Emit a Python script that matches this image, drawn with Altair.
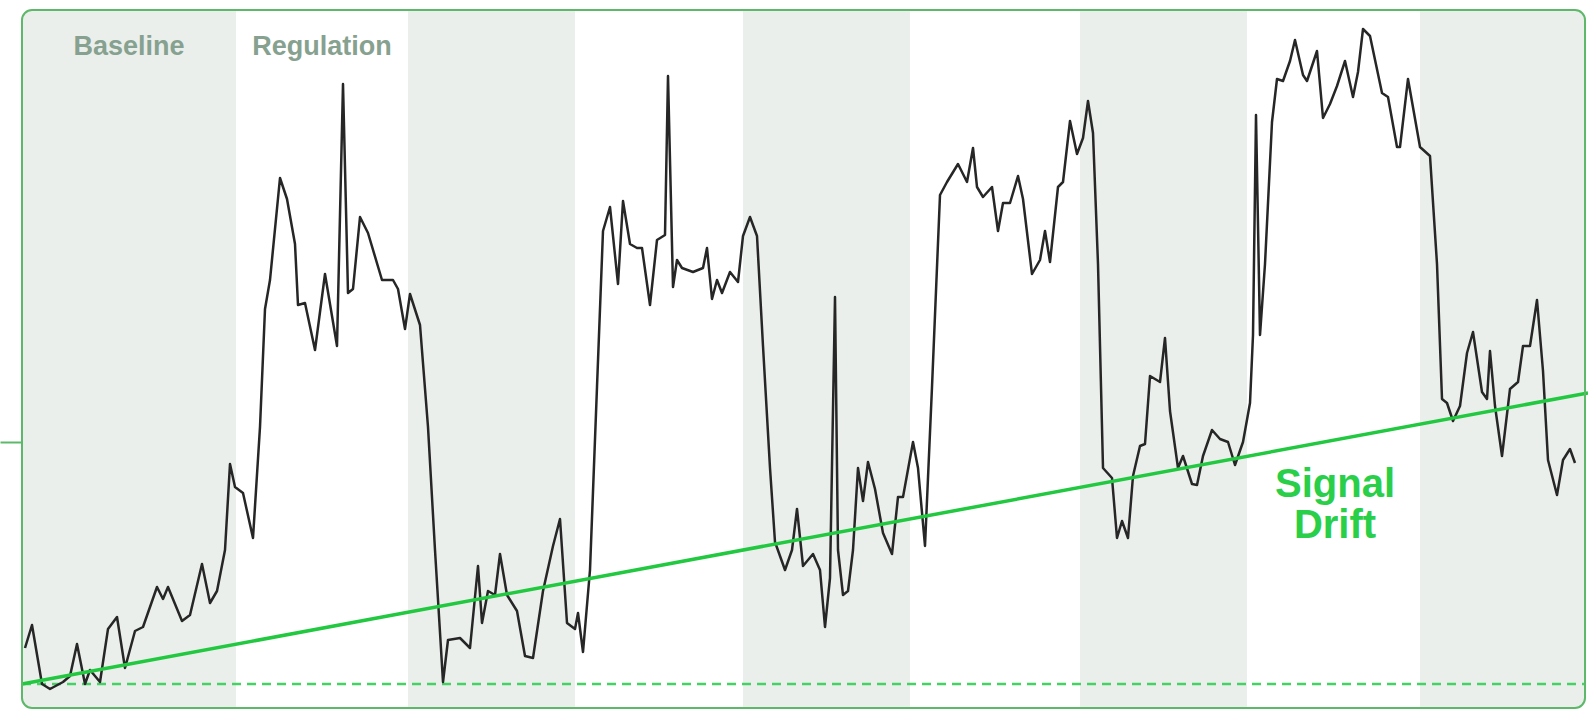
import altair as alt
import pandas as pd

# ---- data ----
# time axis (samples from the left edge of the panel) and signal level above baseline
time_vals = [3,10,20,28,41,48,55,63,68,78,
             86,95,103,113,121,135,141,146,160,168,
             180,188,195,203,208,213,221,231,238,243,
             248,258,265,273,276,283,293,303,315,321,
             326,331,338,346,360,371,376,383,388,398,
             406,413,421,426,438,448,456,460,466,473,
             478,485,495,503,511,521,531,538,545,553,
             556,561,568,575,581,588,596,601,608,615,
             620,628,635,643,646,651,655,660,671,681,
             685,690,695,700,708,716,721,728,735,741,
             748,753,763,770,775,781,791,798,803,808,
             813,816,821,826,831,836,841,846,853,861,
             870,876,881,891,896,903,910,918,925,936,
             945,951,955,961,970,976,981,988,996,1001,
             1010,1018,1023,1028,1036,1041,1048,1055,1061,1066,
             1071,1076,1081,1090,1095,1100,1106,1111,1118,1123,
             1128,1138,1143,1148,1156,1161,1170,1175,1181,1190,
             1198,1206,1213,1221,1228,1231,1234,1238,1243,1250,
             1255,1261,1268,1273,1281,1285,1295,1301,1308,1315,
             1323,1331,1336,1341,1348,1360,1366,1375,1378,1386,
             1398,1408,1415,1420,1425,1431,1438,1445,1451,1460,
             1465,1468,1473,1480,1488,1496,1501,1508,1515,1521,
             1526,1535,1541,1548,1553]
signal_vals = [36,59,0,-5,2,8,40,0,14,2,
               55,67,16,53,57,97,85,97,63,69,
               120,81,93,134,220,197,191,146,257,375,
               404,506,485,440,379,381,334,410,338,600,
               391,395,467,451,404,404,395,355,390,359,
               257,134,2,44,46,36,118,61,93,89,
               130,89,73,28,26,93,138,165,61,55,
               71,32,114,297,453,477,400,483,440,436,
               436,379,444,449,608,397,424,416,412,416,
               436,385,404,391,412,402,448,467,448,338,
               216,142,114,134,175,118,130,114,57,106,
               387,134,89,93,134,216,183,222,195,151,
               130,187,187,242,216,138,297,489,502,520,
               502,536,497,487,497,453,481,481,508,485,
               410,424,453,422,497,502,563,530,546,583,
               551,420,216,206,146,163,146,208,238,240,
               308,302,346,273,216,228,200,199,228,254,
               245,242,219,242,281,349,569,349,420,562,
               605,603,623,644,609,603,633,566,580,598,
               623,587,612,655,648,591,587,537,537,605,
               537,528,420,285,281,263,278,331,352,292,
               285,333,278,228,295,302,338,338,384,313,
               224,189,224,235,221]

# alternating phase bands (start, end)
band_starts = [0, 214, 386, 553, 721, 888, 1058, 1225, 1398]
band_ends = [214, 386, 553, 721, 888, 1058, 1225, 1398, 1563]
band_shaded = [True, False, True, False, True, False, True, False, True]

# phase labels
phase_labels = ["Baseline", "Regulation"]
phase_label_t = [107, 300]
phase_label_s = [629, 629]

# drift trend line
drift_t = [0, 1566]
drift_s = [0, 291]

# annotation
annot_text = ["Signal", "Drift"]
annot_t = [1313, 1313]
annot_s = [187, 146]

T_MAX = 1563
S_MIN, S_MAX = -24, 674
GREEN_BORDER = "#5db86a"
GREEN = "#22c840"

sig_df = pd.DataFrame({"t": time_vals, "s": signal_vals})
bands_df = pd.DataFrame({"x0": band_starts, "x1": band_ends, "shaded": band_shaded})
shaded = bands_df[bands_df["shaded"]].reset_index(drop=True)
first_band = shaded.iloc[[0]]
last_band = shaded.iloc[[len(shaded) - 1]]
mid_bands = shaded.iloc[1:len(shaded) - 1]
labels_df = pd.DataFrame({"t": phase_label_t, "s": phase_label_s, "label": phase_labels})
drift_df = pd.DataFrame({"t": drift_t, "s": drift_s})
base_df = pd.DataFrame({"t": [0, T_MAX], "s": [0, 0]})
annot_df = pd.DataFrame({"t": annot_t, "s": annot_s, "label": annot_text})
frame_df = pd.DataFrame({"x0": [0], "x1": [T_MAX], "y0": [S_MIN], "y1": [S_MAX]})

xs = alt.Scale(domain=[0, T_MAX], nice=False, zero=False)
ys = alt.Scale(domain=[S_MIN, S_MAX], nice=False, zero=False)
yax = alt.Axis(values=[242], labels=False, ticks=True, tickSize=22, tickColor=GREEN_BORDER,
               tickWidth=2, domain=False, grid=False, title=None)

def X(f):
    return alt.X(f, scale=xs, axis=None)

def Y(f):
    return alt.Y(f, scale=ys, axis=yax)

band_fill = "#ebefec"
mid = alt.Chart(mid_bands).mark_rect(color=band_fill).encode(
    x=X("x0:Q"), x2="x1:Q", y=Y("y0:Q"), y2="y1:Q"
).transform_calculate(y0=str(S_MIN), y1=str(S_MAX))
first = alt.Chart(first_band).mark_rect(color=band_fill, cornerRadiusTopLeft=10,
                                        cornerRadiusBottomLeft=10).encode(
    x=X("x0:Q"), x2="x1:Q", y=Y("y0:Q"), y2="y1:Q"
).transform_calculate(y0=str(S_MIN), y1=str(S_MAX))
last = alt.Chart(last_band).mark_rect(color=band_fill, cornerRadiusTopRight=10,
                                      cornerRadiusBottomRight=10).encode(
    x=X("x0:Q"), x2="x1:Q", y=Y("y0:Q"), y2="y1:Q"
).transform_calculate(y0=str(S_MIN), y1=str(S_MAX))

labels = alt.Chart(labels_df).mark_text(
    font="Liberation Sans", fontWeight="bold", fontSize=27, color="#86a18f",
    align="center", baseline="alphabetic"
).encode(x=X("t:Q"), y=Y("s:Q"), text="label:N")

baseline = alt.Chart(base_df).mark_line(color="#45d164", strokeWidth=2.5,
                                        strokeDash=[9, 6]).encode(x=X("t:Q"), y=Y("s:Q"))

signal = alt.Chart(sig_df).mark_line(color="#262626", strokeWidth=2.5,
                                     strokeJoin="round").encode(
    x=X("t:Q"), y=Y("s:Q"))

drift = alt.Chart(drift_df).mark_line(color=GREEN, strokeWidth=3.5, clip=False).encode(
    x=X("t:Q"), y=Y("s:Q"))

annot = alt.Chart(annot_df).mark_text(
    font="Liberation Sans", fontWeight="bold", fontSize=40, color="#29cf48",
    align="center", baseline="alphabetic"
).encode(x=X("t:Q"), y=Y("s:Q"), text="label:N")

frame = alt.Chart(frame_df).mark_rect(fillOpacity=0, stroke=GREEN_BORDER, strokeWidth=2,
                                      cornerRadius=10).encode(
    x=X("x0:Q"), x2="x1:Q", y=Y("y0:Q"), y2="y1:Q")

chart = alt.layer(first, mid, last, labels, baseline, signal, drift, annot, frame).properties(
    width=T_MAX, height=698,
    padding={"left": 22, "top": 10, "right": 3, "bottom": 3},
    autosize=alt.AutoSizeParams(type="none"),
    background="white",
).configure_view(strokeWidth=0)

chart.save("out.html", embed_options={"renderer": "svg", "actions": False})
